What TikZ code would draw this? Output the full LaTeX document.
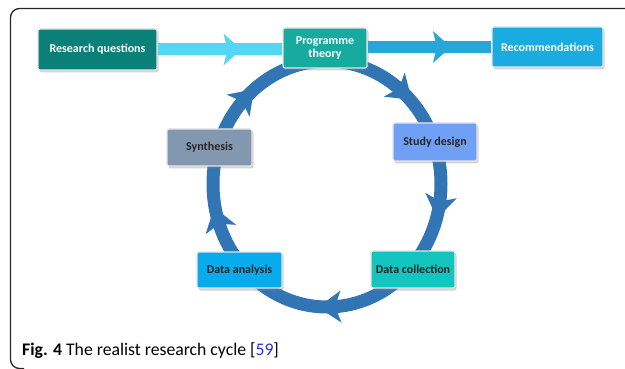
\documentclass[tikz,border=0pt]{standalone}
\usepackage{fontspec}
\setmainfont{Carlito}
\usetikzlibrary{shadows,decorations.markings}
\definecolor{rqteal}{HTML}{0A8079}
\definecolor{ptteal}{HTML}{17ABA0}
\definecolor{recblue}{HTML}{1AABE0}
\definecolor{synthgrey}{HTML}{8497B0}
\definecolor{studyblue}{HTML}{6FA0F6}
\definecolor{anablue}{HTML}{08ACEC}
\definecolor{colturq}{HTML}{14C4BE}
\definecolor{leftband}{HTML}{54D7F7}
\definecolor{rightband}{HTML}{27A6D8}
\definecolor{ringblue}{HTML}{3275B4}
\definecolor{citeblue}{HTML}{2B2BE0}
\tikzset{
  stage/.style={draw=white!90!black, line width=1.2pt, rounded corners=2pt,
    drop shadow={shadow xshift=1.5pt, shadow yshift=-2.5pt, opacity=.35},
    inner sep=0pt, align=center, font=\bfseries\fontsize{12}{13}\selectfont},
  band/.style={line width=12pt,
    postaction={decorate, decoration={markings, mark=at position #1 with {
      \fill (9,0) -- (-9,16) -- (-5,0) -- (-9,-16) -- cycle;}}}},
}
\begin{document}
\begin{tikzpicture}[x=1pt,y=1pt]
    \useasboundingbox (0,0) rectangle (625,-369);
    \draw[line width=1.3pt, rounded corners=9pt, black!85] (625,-8.5) -- (10.5,-8.5) -- (10.5,-368.5) -- (24,-368.5);
    \draw[ringblue, line width=13pt] (327,-184) ellipse [x radius=114, y radius=123];
    \foreach \a in {49,-10,-88,197,136} {
        \begin{scope}[shift={({327+114*cos(\a)},{-184+123*sin(\a)})}, rotate=\a-90]
            \fill[ringblue] (13,0) -- (-10,16) -- (-4,0) -- (-10,-16) -- cycle;
        \end{scope}
    }
    \node[stage, fill=rqteal, text=white, minimum width=119, minimum height=41] (rq) at (97.5,-49.5) {Research questions};
    \node[stage, fill=ptteal, text=white, minimum width=84, minimum height=40] (pt) at (325,-48) {Programme\\theory};
    \node[stage, fill=recblue, text=white, minimum width=111, minimum height=40] (rec) at (547.5,-47) {Recommendations};
    \node[stage, fill=synthgrey, text=black!85, minimum width=85, minimum height=37] (syn) at (209.5,-147.5) {Synthesis};
    \node[stage, fill=studyblue, text=black!85, minimum width=84, minimum height=38] (sd) at (435,-142) {Study design};
    \node[stage, fill=anablue, text=black!85, minimum width=85, minimum height=36] (da) at (239.5,-270) {Data analysis};
    \node[stage, fill=colturq, text=black!85, minimum width=84, minimum height=37] (dc) at (413,-269.5) {Data collection};
    \draw[leftband, fill=leftband, band=0.6] (rq.east) -- (rq.east -| pt.west);
    \draw[rightband, fill=rightband, band=0.6] (pt.east |- rec.west) -- (rec.west);
    \node[anchor=base west, inner sep=0pt, font=\fontsize{17.7}{20}\selectfont] (cap) at (22,-355) {\textbf{Fig. 4} The realist research cycle [\textcolor{citeblue}{59}]};
\end{tikzpicture}
\end{document}
